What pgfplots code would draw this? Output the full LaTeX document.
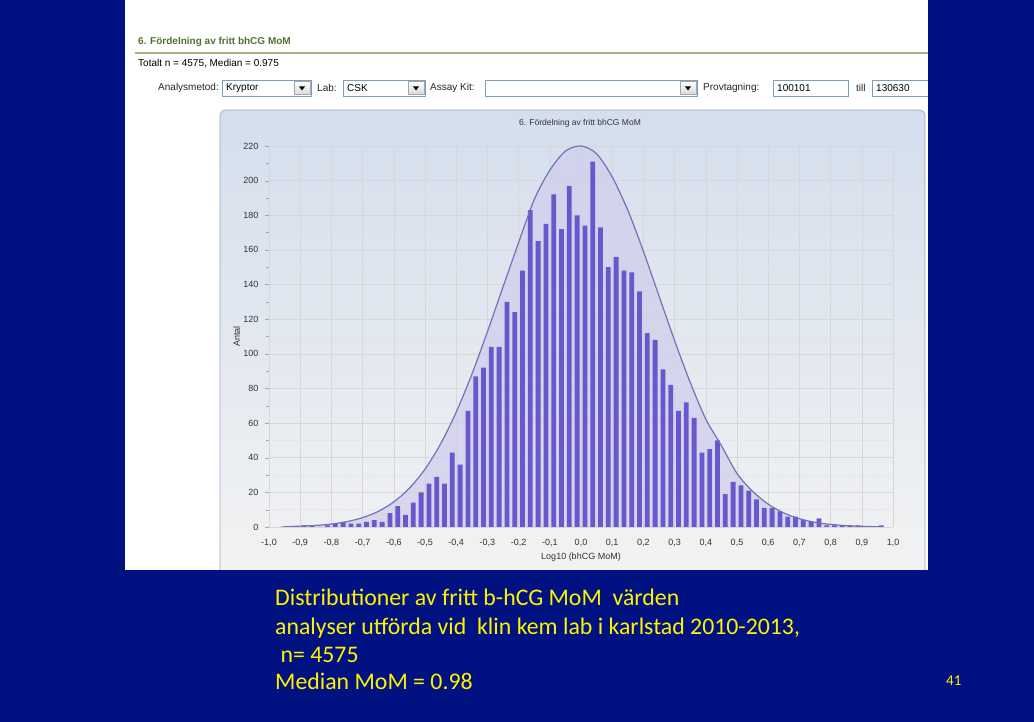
\documentclass[border=0pt]{standalone}
\usepackage{pgfplots}
\pgfplotsset{compat=1.18}
\usepackage{pgfplotstable}
\usepackage{fontspec}
\setmainfont{Liberation Sans}
\newfontfamily\calib{Carlito}
\definecolor{slide}{RGB}{0,18,130}
\definecolor{hdrgreen}{RGB}{84,112,48}
\definecolor{hdrline}{RGB}{160,180,130}
\definecolor{boxborder}{RGB}{127,157,185}
\definecolor{barc}{RGB}{104,88,204}
\definecolor{envfill}{RGB}{208,206,236}
\definecolor{envline}{RGB}{118,112,182}
\definecolor{panelborder}{RGB}{160,168,190}
\definecolor{gridc}{RGB}{215,215,215}

\pgfplotstableread{
x y
-0.8875 1
-0.8625 1
-0.8375 0
-0.8125 1
-0.7875 2
-0.7625 3
-0.7375 2
-0.7125 2
-0.6875 3
-0.6625 4
-0.6375 3
-0.6125 8
-0.5875 12
-0.5625 7
-0.5375 14
-0.5125 20
-0.4875 25
-0.4625 29
-0.4375 25
-0.4125 43
-0.3875 36
-0.3625 67
-0.3375 87
-0.3125 92
-0.2875 104
-0.2625 104
-0.2375 130
-0.2125 124
-0.1875 148
-0.1625 183
-0.1375 165
-0.1125 175
-0.0875 192
-0.0625 172
-0.0375 197
-0.0125 180
0.0125 174
0.0375 211
0.0625 173
0.0875 150
0.1125 156
0.1375 148
0.1625 147
0.1875 136
0.2125 112
0.2375 108
0.2625 91
0.2875 82
0.3125 67
0.3375 72
0.3625 63
0.3875 43
0.4125 45
0.4375 50
0.4625 19
0.4875 26
0.5125 24
0.5375 21
0.5625 16
0.5875 11
0.6125 11
0.6375 9
0.6625 6
0.6875 6
0.7125 4
0.7375 3
0.7625 5
0.7875 1
0.8125 1
0.8375 1
0.8625 1
0.8875 1
0.9625 1
}\bars

\pgfplotstableread{
x y
-0.96 0.0
-0.90 0.5
-0.85 0.9
-0.80 1.7
-0.75 3.1
-0.70 5.4
-0.65 9.0
-0.60 14.5
-0.55 22.4
-0.50 33.4
-0.45 48.0
-0.40 66.3
-0.35 88.1
-0.30 112.7
-0.25 138.6
-0.20 164.2
-0.15 189.0
-0.10 206.0
-0.05 217.0
0.00 220.0
0.05 215.5
0.10 202.1
0.15 182.9
0.20 159.2
0.25 133.4
0.30 107.6
0.35 83.5
0.40 62.3
0.45 47.0
0.50 30.9
0.55 20.6
0.60 13.2
0.65 8.1
0.70 4.8
0.75 2.7
0.80 1.5
0.85 0.8
0.90 0.4
0.97 0.0
}\envelope

\begin{document}
\begin{tikzpicture}[x=1pt,y=1pt]
\path[use as bounding box] (0,0) rectangle (1034,722);
% slide background
\fill[slide] (0,0) rectangle (1034,722);
% screenshot white area
\fill[white] (125,152) rectangle (928,722);
% header
\node[anchor=west,inner sep=0pt,text=hdrgreen,font=\fontsize{10}{12}\selectfont\bfseries] at (138,680) {6. Fördelning av fritt bhCG MoM};
\draw[hdrline,line width=1.2pt] (135,669) -- (928,669);
\node[anchor=west,inner sep=0pt,font=\fontsize{10}{12}\selectfont] at (138,658) {Totalt n = 4575, Median = 0.975};
% controls row
\begin{scope}[font=\fontsize{10}{12}\selectfont]
\node[anchor=east,inner sep=0pt,text=black!85] at (219,634) {Analysmetod:};
\draw[boxborder,fill=white] (222,626) rectangle (311,642);
\node[anchor=west,inner sep=0pt] at (226,634) {Kryptor};
\shade[top color=white,bottom color=black!15,draw=black!35] (294,627.5) rectangle (310,640.5);
\fill (299,635.5) -- (305,635.5) -- (302,631.5) -- cycle;
\node[anchor=west,inner sep=0pt,text=black!85] at (317,634) {Lab:};
\draw[boxborder,fill=white] (343,626) rectangle (425,642);
\node[anchor=west,inner sep=0pt] at (347,634) {CSK};
\shade[top color=white,bottom color=black!15,draw=black!35] (408,627.5) rectangle (424,640.5);
\fill (413,635.5) -- (419,635.5) -- (416,631.5) -- cycle;
\node[anchor=west,inner sep=0pt,text=black!85] at (430,634) {Assay Kit:};
\draw[boxborder,fill=white] (485,626) rectangle (697,642);
\shade[top color=white,bottom color=black!15,draw=black!35] (680,627.5) rectangle (696,640.5);
\fill (685,635.5) -- (691,635.5) -- (688,631.5) -- cycle;
\node[anchor=west,inner sep=0pt,text=black!85] at (703,634) {Provtagning:};
\draw[boxborder,fill=white] (773,626) rectangle (848,642);
\node[anchor=west,inner sep=0pt] at (777,634) {100101};
\node[anchor=west,inner sep=0pt,text=black!85] at (856,634) {till};
\draw[boxborder,fill=white] (928,626) -- (872,626) -- (872,642) -- (928,642);
\node[anchor=west,inner sep=0pt] at (876,634) {130630};
\end{scope}
% chart panel
\shade[top color={rgb,255:red,212;green,222;blue,237},bottom color={rgb,255:red,243;green,243;blue,243},rounded corners=6pt,draw=panelborder,line width=0.8pt] (220,140) rectangle (925,612);
\node[font=\fontsize{8.5}{10}\selectfont,text=black!80] at (580,599) {6. Fördelning av fritt bhCG MoM};

\begin{axis}[
  at={(269pt,195pt)}, anchor=south west,
  scale only axis, width=624pt, height=381pt,
  xmin=-1, xmax=1, ymin=0, ymax=220,
  xtick={-1,-0.9,-0.8,-0.7,-0.6,-0.5,-0.4,-0.3,-0.2,-0.1,0,0.1,0.2,0.3,0.4,0.5,0.6,0.7,0.8,0.9,1},
  xticklabels={{-1,0},{-0,9},{-0,8},{-0,7},{-0,6},{-0,5},{-0,4},{-0,3},{-0,2},{-0,1},{0,0},{0,1},{0,2},{0,3},{0,4},{0,5},{0,6},{0,7},{0,8},{0,9},{1,0}},
  ytick={0,20,...,220},
  minor ytick={10,30,...,210},
  ytick pos=left,
  /pgf/number format/assume math mode=true,
  grid=both,
  major grid style={gridc,line width=0.6pt},
  minor grid style={gridc!70,line width=0.5pt,dash pattern=on 2pt off 1pt},
  axis line style={draw=none},
  tick style={black!35},
  tick align=outside,
  major tick length=4pt, minor tick length=3pt,
  xtick style={draw=none},
  ticklabel style={font=\fontsize{9}{10}\selectfont,text=black!80},
  yticklabel style={xshift=-3pt},
  xticklabel style={yshift=-5pt},
  xlabel={Log10 (bhCG MoM)},
  ylabel={Antal},
  label style={font=\fontsize{9}{10}\selectfont,text=black!80},
  xlabel style={at={(axis description cs:0.5,-0.079)},anchor=center},
  ylabel style={at={(axis description cs:-0.052,0.5)},anchor=center},
]
\addplot[draw=none,fill=envfill,fill opacity=0.75,smooth] table[x=x,y=y]{\envelope} \closedcycle;
\addplot[ybar,bar width=4.8pt,fill=barc,draw=none] table[x=x,y=y]{\bars};
\addplot[envline,line width=1.2pt,smooth] table[x=x,y=y]{\envelope};
\end{axis}

% bottom blue band covering panel bottom
\fill[slide] (0,0) rectangle (1034,152);
\fill[slide] (928,0) rectangle (1034,722);
% slide text
\begin{scope}[text=yellow,font=\calib\fontsize{23.8}{28}\selectfont]
\node[anchor=west,inner sep=0pt] at (275,125) {Distributioner av fritt b-hCG MoM\ \ värden};
\node[anchor=west,inner sep=0pt] at (275,94) {analyser utförda vid\ \ klin kem lab i karlstad 2010-2013,};
\node[anchor=west,inner sep=0pt] at (275,67) {\ n= 4575};
\node[anchor=west,inner sep=0pt] at (275,41) {Median MoM = 0.98};
\node[anchor=west,inner sep=0pt,font=\calib\fontsize{15}{18}\selectfont] at (946,41) {41};
\end{scope}
\end{tikzpicture}
\end{document}
